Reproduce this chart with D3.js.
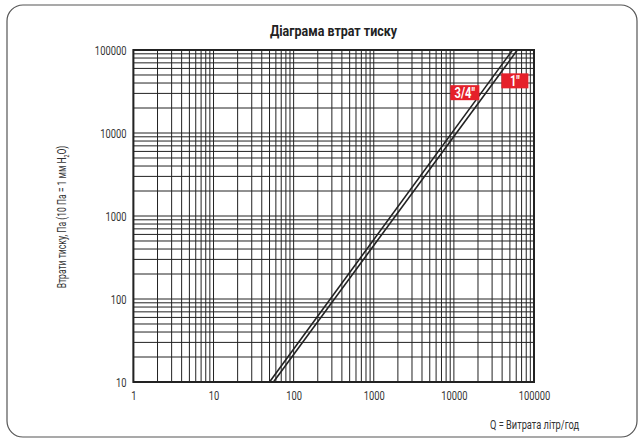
<!DOCTYPE html>
<html>
<head>
<meta charset="utf-8">
<script src="https://cdn.jsdelivr.net/npm/d3@7"></script>
<style>
  body { margin: 0; background: #fff; }
  text { font-family: "Roboto", "DejaVu Sans Condensed", sans-serif; fill: #333; }
</style>
</head>
<body>
<svg width="643" height="442"></svg>
<script>
// flow values (l/h) and pressure losses (Pa)
var series = ['3/4"', '1"'];
var flow34 = [50, 54000];
var loss34 = [10, 100000];
var flow1 = [56, 62000];
var loss1 = [10, 100000];
var labelFlow = [13700, 57700];
var labelLoss = [30600, 42500];
var xTicks = [1, 10, 100, 1000, 10000, 100000];
var yTicks = [10, 100, 1000, 10000, 100000];

var narrow = 0.72; // the original uses a condensed face

var svg = d3.select('svg');

svg.append('rect')
    .attr('x', 7).attr('y', 5)
    .attr('width', 630).attr('height', 432)
    .attr('rx', 16)
    .attr('fill', 'none')
    .attr('stroke', '#555')
    .attr('stroke-width', 1.2);

var scaleX = d3.scaleLog().domain([1, 100000]).range([133.4, 534]);
var scaleY = d3.scaleLog().domain([10, 100000]).range([382, 50]);

// minor grid: 1..9 in every decade
var xGrid = [];
xTicks.slice(0, -1).forEach(function(d) {
    for (var i = 1; i < 10; i++) xGrid.push(d * i);
});
var yGrid = [];
yTicks.slice(0, -1).forEach(function(d) {
    for (var i = 1; i < 10; i++) yGrid.push(d * i);
});

var g = svg.append('g');

g.selectAll('.vg')
    .data(xGrid)
    .enter()
    .append('line')
    .attr('x1', function(d) { return scaleX(d); })
    .attr('x2', function(d) { return scaleX(d); })
    .attr('y1', scaleY(100000))
    .attr('y2', scaleY(10))
    .attr('stroke', '#222')
    .attr('stroke-width', 1);

g.selectAll('.hg')
    .data(yGrid)
    .enter()
    .append('line')
    .attr('y1', function(d) { return scaleY(d); })
    .attr('y2', function(d) { return scaleY(d); })
    .attr('x1', scaleX(1))
    .attr('x2', scaleX(100000))
    .attr('stroke', '#222')
    .attr('stroke-width', 1);

g.append('rect')
    .attr('x', scaleX(1))
    .attr('y', scaleY(100000))
    .attr('width', scaleX(100000) - scaleX(1))
    .attr('height', scaleY(10) - scaleY(100000))
    .attr('fill', 'none')
    .attr('stroke', '#222')
    .attr('stroke-width', 2);

// curves
var line = d3.line()
    .x(function(d) { return scaleX(d[0]); })
    .y(function(d) { return scaleY(d[1]); });

[d3.zip(flow34, loss34), d3.zip(flow1, loss1)].forEach(function(pts) {
    g.append('path')
        .attr('d', line(pts))
        .attr('fill', 'none')
        .attr('stroke', '#222')
        .attr('stroke-width', 1.6);
});

// axes labels
svg.append('g')
    .attr('transform', 'translate(0,' + scaleY(10) + ')')
    .call(d3.axisBottom(scaleX).tickValues(xTicks).tickSize(0).tickPadding(9)
        .tickFormat(d3.format('d')))
    .call(function(a) {
        a.select('.domain').remove();
        a.selectAll('text').attr('font-size', 13).attr('font-family', null).attr('fill', '#333')
            .attr('transform', 'scale(' + narrow + ',1)');
    });

svg.append('g')
    .attr('transform', 'translate(' + scaleX(1) + ',0)')
    .call(d3.axisLeft(scaleY).tickValues(yTicks).tickSize(0).tickPadding(7)
        .tickFormat(d3.format('d')))
    .call(function(a) {
        a.select('.domain').remove();
        a.selectAll('text').attr('font-size', 13).attr('font-family', null).attr('fill', '#333')
            .attr('x', -7 / narrow)
            .attr('transform', 'scale(' + narrow + ',1)');
    });

// series labels
series.forEach(function(s, i) {
    var cx = scaleX(labelFlow[i]), cy = scaleY(labelLoss[i]);
    var w = i == 0 ? 29 : 27;
    svg.append('rect')
        .attr('x', cx - w / 2).attr('y', cy - 7.5)
        .attr('width', w).attr('height', 15)
        .attr('fill', '#e5202a');
    svg.append('text')
        .attr('transform', 'translate(' + cx + ',' + (cy + 5.5) + ') scale(0.72,1)')
        .attr('text-anchor', 'middle')
        .attr('font-size', 15.5)
        .attr('font-weight', 'bold')
        .style('fill', '#fff')
        .text(s);
});

svg.append('text')
    .attr('x', 270)
    .attr('y', 36)
    .attr('textLength', 127)
    .attr('lengthAdjust', 'spacingAndGlyphs')
    .attr('font-size', 15)
    .attr('font-weight', 'bold')
    .style('fill', '#222')
    .text('Діаграма втрат тиску');

svg.append('text')
    .attr('x', 490)
    .attr('y', 429)
    .attr('textLength', 89)
    .attr('lengthAdjust', 'spacingAndGlyphs')
    .attr('font-size', 13)
    .text('Q = Витрата літр/год');

var yt = svg.append('text')
    .attr('transform', 'translate(66,217) rotate(-90) scale(0.66,1)')
    .attr('text-anchor', 'middle')
    .attr('font-size', 13);
yt.append('tspan').text('Втрати тиску, Па (10 Па = 1 мм H');
yt.append('tspan').attr('font-size', 8).attr('dy', 3).text('2');
yt.append('tspan').attr('dy', -3).text('O)');
</script>
</body>
</html>
